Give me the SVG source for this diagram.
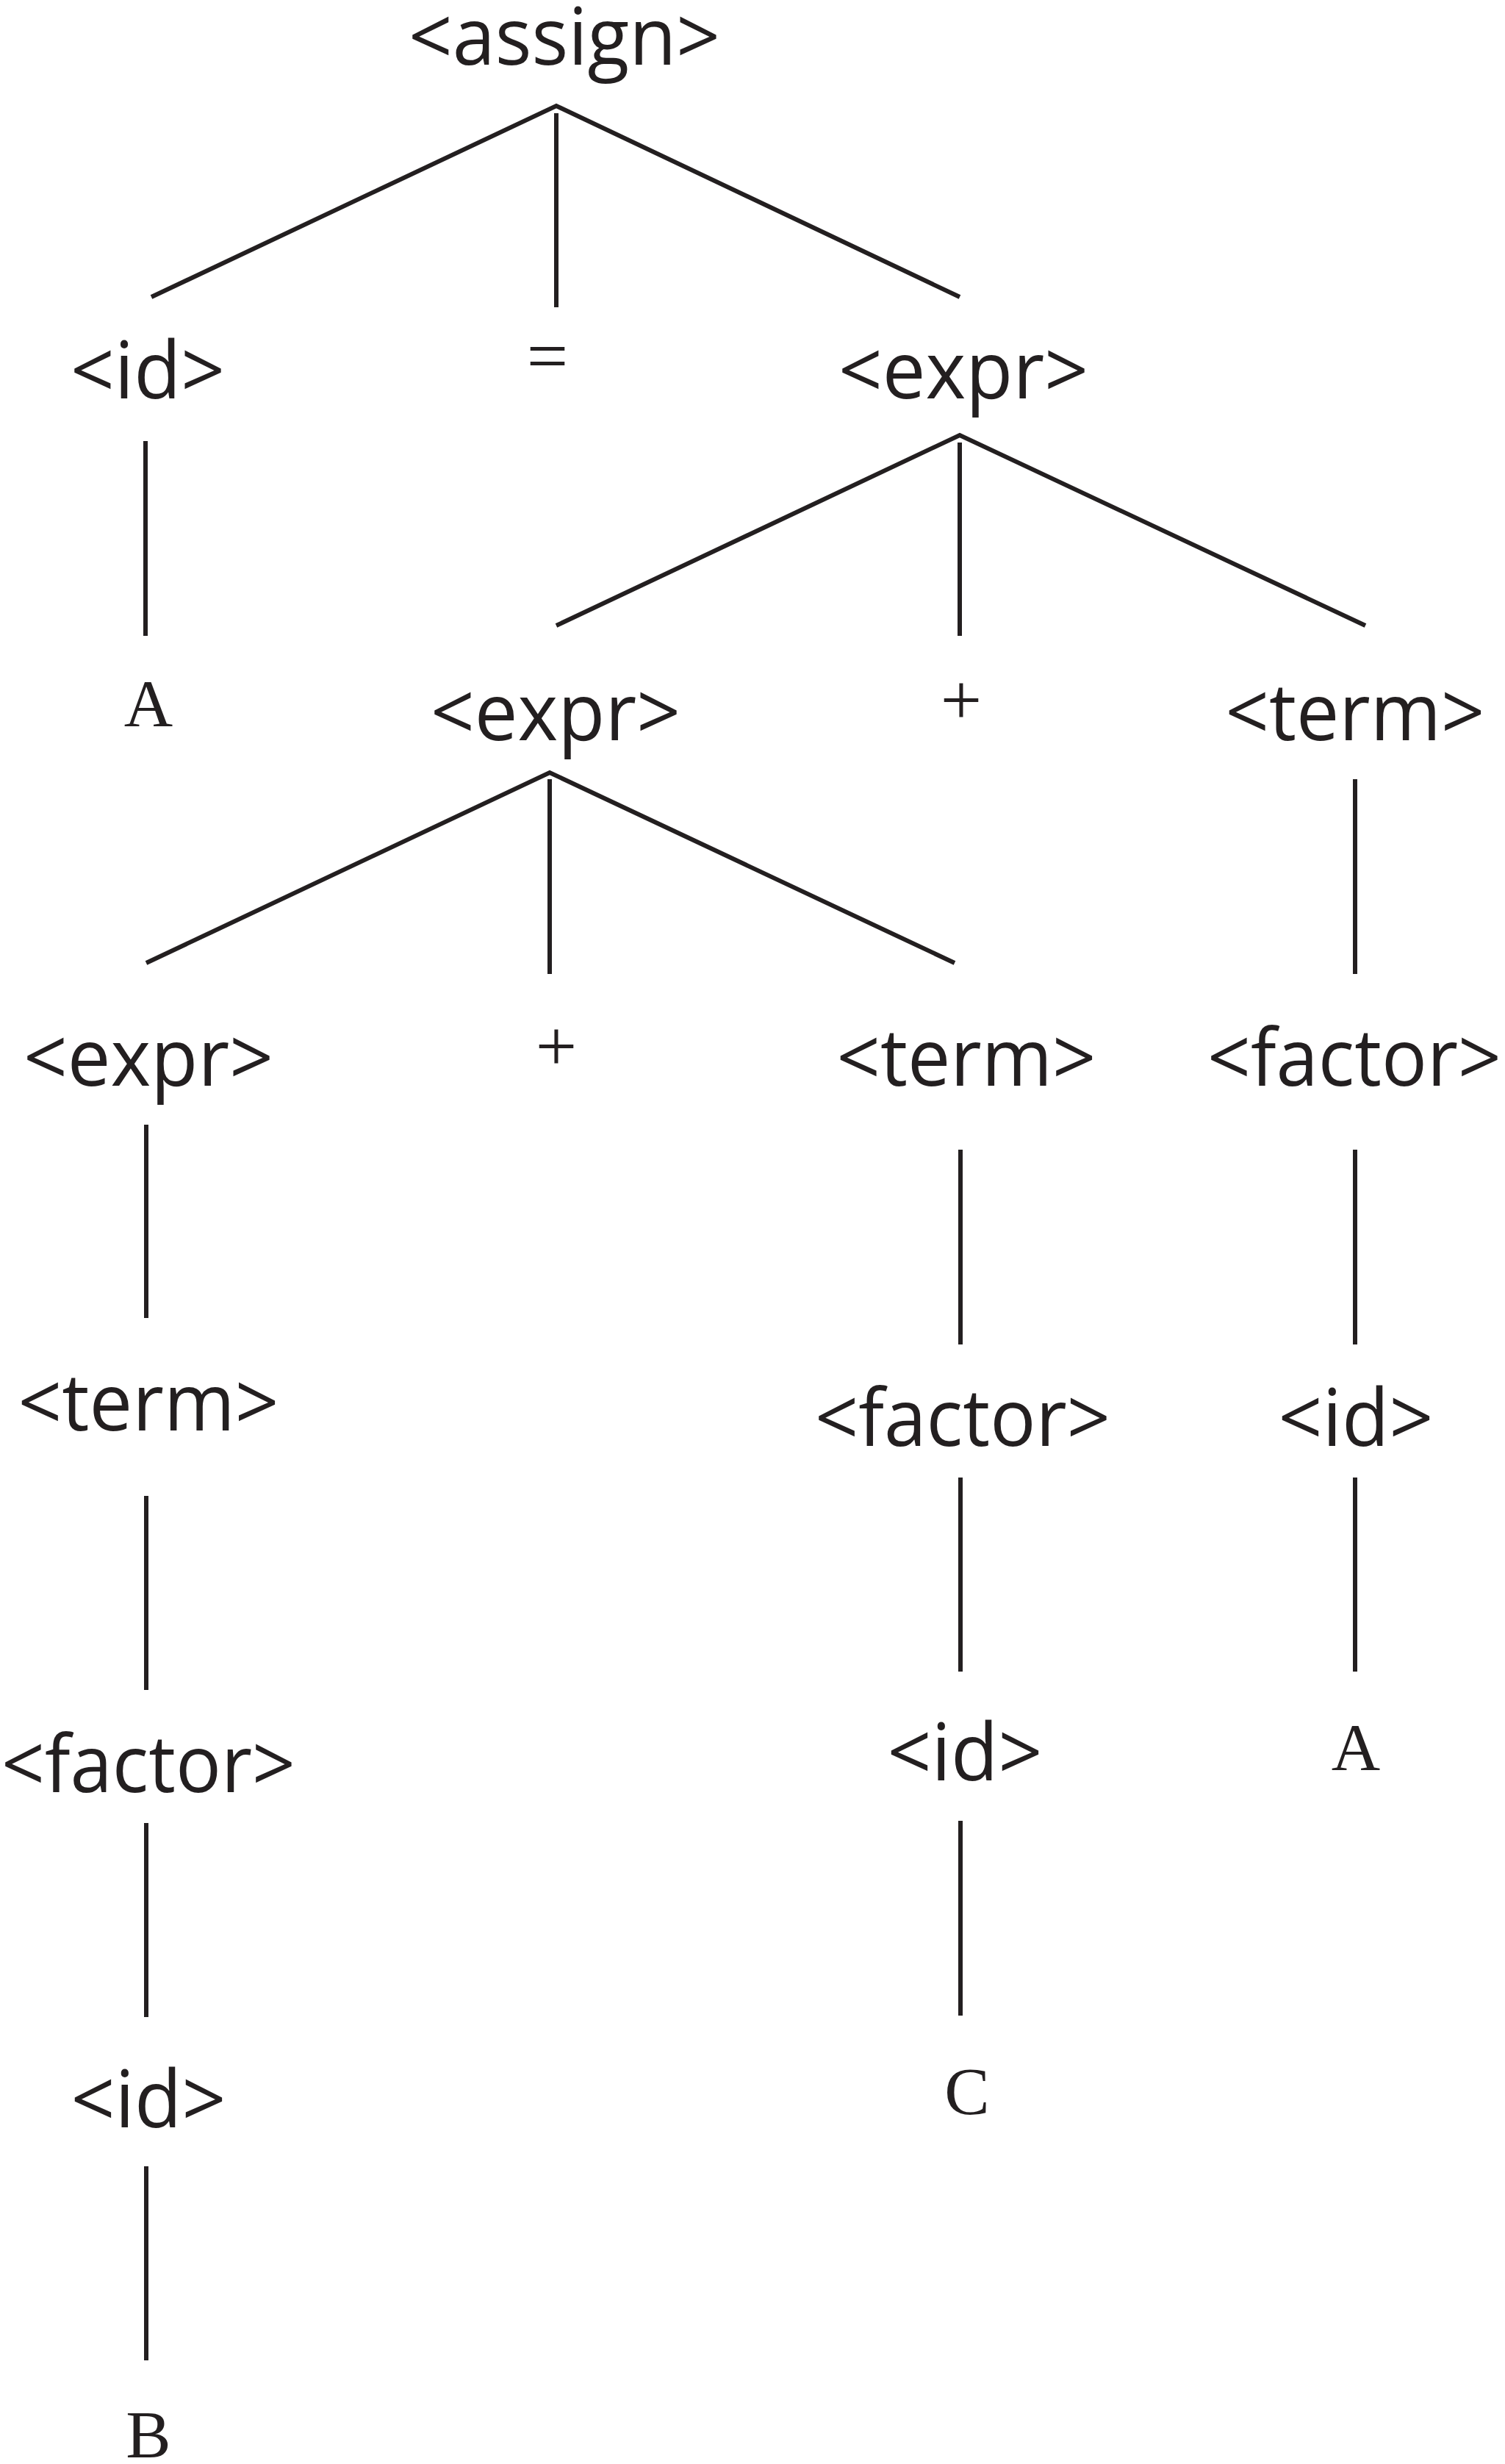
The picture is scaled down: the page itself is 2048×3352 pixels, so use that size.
<svg xmlns="http://www.w3.org/2000/svg" width="2048" height="3352" viewBox="0 0 2048 3352">
<style>
.nt{font-family:"Open Sans","Noto Sans",sans-serif;font-size:108px;fill:#231f20;text-anchor:middle}
.t{font-family:"Liberation Serif","DejaVu Serif",serif;font-size:92px;fill:#231f20;text-anchor:middle}
.op{font-family:"Liberation Serif","DejaVu Serif",serif;font-size:100px;fill:#231f20;text-anchor:middle}
.e{fill:none;stroke:#231f20;stroke-width:6;stroke-linejoin:miter}
</style>
<rect width="2048" height="3352" fill="#ffffff"/>
<g id="connectors">
<polyline class="e" points="206,404 757,144 1306,404"/>
<line class="e" x1="757" y1="154" x2="757" y2="418"/>
<line class="e" x1="198" y1="600" x2="198" y2="865"/>
<polyline class="e" points="757,851 1306,592 1858,851"/>
<line class="e" x1="1306" y1="602" x2="1306" y2="865"/>
<polyline class="e" points="199,1310 748,1051 1299,1310"/>
<line class="e" x1="748" y1="1060" x2="748" y2="1325"/>
<line class="e" x1="1844" y1="1060" x2="1844" y2="1325"/>
<line class="e" x1="199" y1="1530" x2="199" y2="1793"/>
<line class="e" x1="1307" y1="1564" x2="1307" y2="1829"/>
<line class="e" x1="1844" y1="1564" x2="1844" y2="1829"/>
<line class="e" x1="199" y1="2035" x2="199" y2="2299"/>
<line class="e" x1="1307" y1="2010" x2="1307" y2="2274"/>
<line class="e" x1="1844" y1="2010" x2="1844" y2="2274"/>
<line class="e" x1="199" y1="2480" x2="199" y2="2744"/>
<line class="e" x1="1307" y1="2477" x2="1307" y2="2742"/>
<line class="e" x1="199" y1="2947" x2="199" y2="3211"/>
</g>
<g id="n-assign"><text class="nt" x="768" y="88" textLength="424" lengthAdjust="spacingAndGlyphs">&lt;assign&gt;</text></g>
<g id="n-id1"><text class="nt" x="201" y="542" textLength="210" lengthAdjust="spacingAndGlyphs">&lt;id&gt;</text></g>
<g id="n-eq"><text class="op" x="745" y="518">=</text></g>
<g id="n-expr1"><text class="nt" x="1311" y="542" textLength="340" lengthAdjust="spacingAndGlyphs">&lt;expr&gt;</text></g>
<g id="n-A1"><text class="t" x="202" y="988">A</text></g>
<g id="n-expr2"><text class="nt" x="756" y="1007" textLength="340" lengthAdjust="spacingAndGlyphs">&lt;expr&gt;</text></g>
<g id="n-plus1"><text class="op" x="1308" y="986">+</text></g>
<g id="n-term2"><text class="nt" x="1844" y="1007" textLength="353" lengthAdjust="spacingAndGlyphs">&lt;term&gt;</text></g>
<g id="n-expr3"><text class="nt" x="202" y="1477" textLength="340" lengthAdjust="spacingAndGlyphs">&lt;expr&gt;</text></g>
<g id="n-plus2"><text class="op" x="757" y="1457">+</text></g>
<g id="n-term3"><text class="nt" x="1315" y="1477" textLength="353" lengthAdjust="spacingAndGlyphs">&lt;term&gt;</text></g>
<g id="n-factor3"><text class="nt" x="1843" y="1477" textLength="400" lengthAdjust="spacingAndGlyphs">&lt;factor&gt;</text></g>
<g id="n-term4"><text class="nt" x="202" y="1946" textLength="355" lengthAdjust="spacingAndGlyphs">&lt;term&gt;</text></g>
<g id="n-factor4"><text class="nt" x="1310" y="1967" textLength="402" lengthAdjust="spacingAndGlyphs">&lt;factor&gt;</text></g>
<g id="n-id4"><text class="nt" x="1845" y="1967" textLength="211" lengthAdjust="spacingAndGlyphs">&lt;id&gt;</text></g>
<g id="n-factor5"><text class="nt" x="202" y="2438" textLength="400" lengthAdjust="spacingAndGlyphs">&lt;factor&gt;</text></g>
<g id="n-id5"><text class="nt" x="1313" y="2422" textLength="211" lengthAdjust="spacingAndGlyphs">&lt;id&gt;</text></g>
<g id="n-A2"><text class="t" x="1845" y="2408">A</text></g>
<g id="n-id6"><text class="nt" x="202" y="2894" textLength="211" lengthAdjust="spacingAndGlyphs">&lt;id&gt;</text></g>
<g id="n-C"><text class="t" x="1316" y="2876">C</text></g>
<g id="n-B"><text class="t" x="202" y="3343">B</text></g>
</svg>
